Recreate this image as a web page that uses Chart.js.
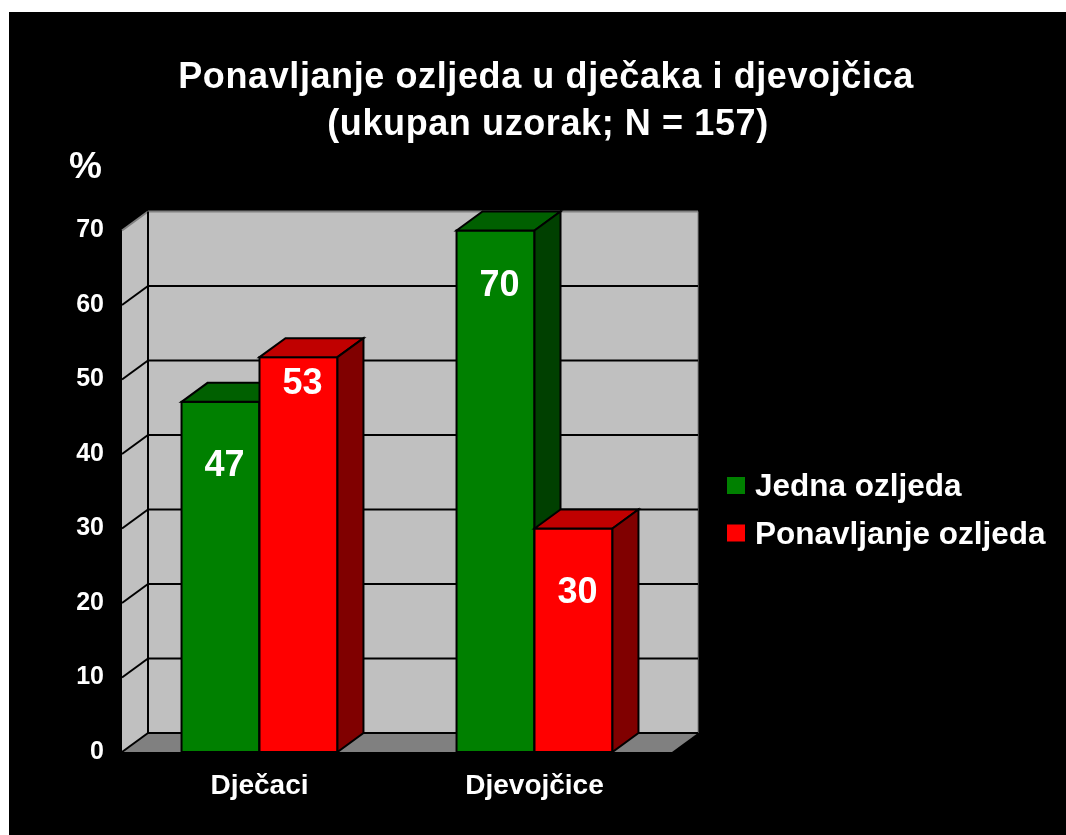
<!DOCTYPE html>
<html>
<head>
<meta charset="utf-8">
<script src="https://cdn.jsdelivr.net/npm/chart.js@4.4.0/dist/chart.umd.min.js"></script>
<style>
    html, body { margin: 0; background: #fff; }
    #box { position: absolute; left: 9px; top: 12px; width: 1057px; height: 823px; background: #000; }
</style>
</head>
<body>
<div id="box"><canvas id="myChart" width="1057" height="823"></canvas></div>
<script>
const categories = ["Dječaci", "Djevojčice"],
    seriesNames = ["Jedna ozljeda", "Ponavljanje ozljeda"],
    jednaValues = [47, 70],
    ponavljanjeValues = [53, 30],
    yTicks = [0, 10, 20, 30, 40, 50, 60, 70],
    titleLines = ["Ponavljanje ozljeda u dječaka i djevojčica", "(ukupan uzorak; N = 157)"],
    yUnit = "%";

const FONT = 'Arial, "Liberation Sans", sans-serif',
    DX = 26, DY = -19, // depth of the 3d look
    faces = [
        { front: "#008000", top: "#006000", side: "#004000" },
        { front: "#ff0000", top: "#c00000", side: "#800000" }
    ],
    labelDrop = [[64, 56], [27, 65]]; // how far below the bar top each value sits

const poly = (ctx, pts, fill, stroke, lw) => {
    ctx.beginPath()
    pts.forEach((p, i) => i ? ctx.lineTo(p[0], p[1]) : ctx.moveTo(p[0], p[1]))
    ctx.closePath()
    if (fill) { ctx.fillStyle = fill; ctx.fill() }
    if (stroke) { ctx.strokeStyle = stroke; ctx.lineWidth = lw; ctx.stroke() }
}

const line = (ctx, x1, y1, x2, y2, color, lw) => {
    ctx.beginPath()
    ctx.moveTo(x1, y1)
    ctx.lineTo(x2, y2)
    ctx.strokeStyle = color
    ctx.lineWidth = lw
    ctx.stroke()
}

const box3d = {
    id: "box3d",
    beforeDatasetsDraw(chart) {//walls, floor and grid
        const { ctx, chartArea: a, scales: { y } } = chart,
            y0 = y.getPixelForValue(yTicks[0]),
            yTop = y.getPixelForValue(yTicks[yTicks.length - 1])
        ctx.save()
        poly(ctx, [[a.left + DX, yTop + DY], [a.right + DX, yTop + DY], [a.right + DX, y0 + DY], [a.left + DX, y0 + DY]], "#c0c0c0", "#808080", 1)
        poly(ctx, [[a.left, yTop], [a.left + DX, yTop + DY], [a.left + DX, y0 + DY], [a.left, y0]], "#c0c0c0")
        poly(ctx, [[a.left, y0], [a.left + DX, y0 + DY], [a.right + DX, y0 + DY], [a.right, y0]], "#808080")
        for (const v of yTicks) {
            const py = y.getPixelForValue(v),
                col = v === yTicks[yTicks.length - 1] ? "#808080" : "#000"
            line(ctx, a.left, py, a.left + DX, py + DY, col, 2)
            line(ctx, a.left + DX, py + DY, a.right + DX, py + DY, col, 2)
        }
        line(ctx, a.left + DX, yTop + DY, a.left + DX, y0 + DY, "#000", 2)
        ctx.restore()
    },
    afterDatasetsDraw(chart) {//bars again in order, with top and side
        const ctx = chart.ctx
        ctx.save()
        chart.data.datasets.forEach((ds, i) => {
            chart.getDatasetMeta(i).data.forEach(bar => {
                const l = bar.x - bar.width / 2, r = bar.x + bar.width / 2, t = bar.y, b = bar.base
                bar.draw(ctx)
                ctx.strokeStyle = "#000"
                ctx.lineWidth = 2
                ctx.strokeRect(l, t, r - l, b - t)
                poly(ctx, [[l, t], [l + DX, t + DY], [r + DX, t + DY], [r, t]], faces[i].top, "#000", 2)
                poly(ctx, [[r, t], [r + DX, t + DY], [r + DX, b + DY], [r, b]], faces[i].side, "#000", 2)
            })
        })
        ctx.fillStyle = "#fff"
        ctx.font = `bold 36px ${FONT}`
        ctx.textAlign = "center"
        ctx.textBaseline = "middle"
        chart.data.datasets.forEach((ds, i) => {
            chart.getDatasetMeta(i).data.forEach((bar, j) => {
                ctx.fillText(ds.data[j], bar.x + 4, bar.y + labelDrop[i][j])
            })
        })
        ctx.restore()
    },
    afterDraw(chart) {//title, unit and legend
        const ctx = chart.ctx
        ctx.save()
        ctx.fillStyle = "#fff"
        ctx.textBaseline = "alphabetic"
        ctx.textAlign = "center"
        ctx.font = `bold 36px ${FONT}`
        ctx.letterSpacing = "0.6px"
        ctx.fillText(titleLines[0], 537, 76)
        ctx.fillText(titleLines[1], 539, 123)
        ctx.letterSpacing = "0px"
        ctx.textAlign = "left"
        ctx.font = `bold 37px ${FONT}`
        ctx.fillText(yUnit, 60, 166)
        ctx.font = `bold 31.5px ${FONT}`
        chart.data.datasets.forEach((ds, i) => {
            const top = 465 + i * 47.5
            ctx.fillStyle = faces[i].front
            ctx.fillRect(718, top, 18, 17)
            ctx.fillStyle = "#fff"
            ctx.fillText(ds.label, 746, top + 19)
        })
        ctx.restore()
    }
};

const ctx = document.getElementById('myChart').getContext('2d'),
    myChart = new Chart(ctx, {
        type: 'bar',
        data: {
            labels: categories,
            datasets: [{
                label: seriesNames[0],
                data: jednaValues,
                backgroundColor: faces[0].front,
                borderWidth: 0
            }, {
                label: seriesNames[1],
                data: ponavljanjeValues,
                backgroundColor: faces[1].front,
                borderWidth: 0
            }]
        },
        options: {
            responsive: false,
            animation: false,
            devicePixelRatio: 1,
            categoryPercentage: 0.567,
            barPercentage: 1,
            layout: { padding: { top: 218.5, right: 394, bottom: 33, left: 0 } },
            plugins: {
                legend: { display: false },
                title: { display: false },
                tooltip: { enabled: false }
            },
            scales: {
                x: {
                    grid: { display: false, drawTicks: false },
                    border: { display: false },
                    ticks: { color: "#fff", font: { family: FONT, size: 28, weight: "bold" }, padding: 17 },
                    afterFit(s) { s.height = 50 }
                },
                y: {
                    min: yTicks[0],
                    max: yTicks[yTicks.length - 1],
                    grid: { display: false, drawTicks: false },
                    border: { display: false },
                    ticks: { color: "#fff", font: { family: FONT, size: 25, weight: "bold" }, padding: 18 },
                    afterBuildTicks(s) { s.ticks = yTicks.map(v => ({ value: v })) },
                    afterFit(s) { s.width = 113 }
                }
            }
        },
        plugins: [box3d]
    });
</script>
</body>
</html>
